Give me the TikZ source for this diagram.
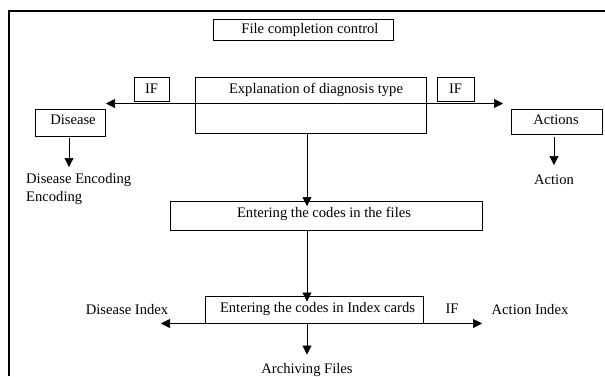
\documentclass[tikz,border=0pt]{standalone}
\usepackage{fontspec}
\setmainfont{Liberation Serif}
\usetikzlibrary{arrows.meta}
\tikzset{
  box/.style={draw, line width=0.8pt, inner sep=0pt, outer sep=0pt, anchor=center},
  lbl/.style={inner sep=0pt, font=\fontsize{14.6}{17}\selectfont},
  tip/.tip={Triangle[length=9pt,width=9pt]},
  conn/.style={line width=0.6pt, -tip},
}
\begin{document}
\begin{tikzpicture}[x=1pt,y=-1pt]
\useasboundingbox (0,0) rectangle (605,376);
% outer frame (only top and left visible)
\draw[line width=1.6pt] (9,376) -- (9,11) -- (605,11);

% boxes
\node[box, minimum width=180pt, minimum height=21pt] (fcc) at (303,29.5) {};
\node[lbl] (fcct) at (310,29.5) {File completion control};

\node[box, minimum width=35pt, minimum height=24pt] (ifL) at (151.5,89) {};
\node[lbl] (ifLt) at (151.5,89) {IF};

\node[box, minimum width=231pt, minimum height=56pt] (expl) at (310.5,105) {};
\node[lbl] (explt) at (316,90) {Explanation of diagnosis type};

\node[box, minimum width=37pt, minimum height=24pt] (ifR) at (455.5,89) {};
\node[lbl] (ifRt) at (455.5,89) {IF};

\node[box, minimum width=70pt, minimum height=27pt] (dis) at (70,122.5) {};
\node[lbl] (dist) at (73,120) {Disease};

\node[box, minimum width=91pt, minimum height=25pt] (act) at (556.5,121.5) {};
\node[lbl] (actt) at (556,120) {Actions};

\node[box, minimum width=312pt, minimum height=29pt] (files) at (326,215.5) {};
\node[lbl] (filest) at (324,214) {Entering the codes in the files};

\node[box, minimum width=218pt, minimum height=27pt] (idx) at (314,310) {};
\node[lbl] (idxt) at (317.5,309) {Entering the codes in Index cards};

% free labels
\node[lbl, anchor=west] (denc1) at (26,180) {Disease Encoding};
\node[lbl, anchor=west] (denc2) at (26,198) {Encoding};
\node[lbl] (action) at (554,180) {Action};
\node[lbl] (disidx) at (127,309) {Disease Index};
\node[lbl] (if3) at (452,309) {IF};
\node[lbl] (actidx) at (530,309) {Action Index};
\node[lbl] (arch) at (307,370) {Archiving Files};

% coordinates for arrows
\coordinate (hl) at (106,103.5);
\coordinate (hr) at (503,103.5);
\coordinate (il) at (161,0);
\coordinate (ir) at (482,0);

% connectors
\draw[line width=0.6pt, tip-tip] (hl) -- (hr);
\draw[conn] ([xshift=-1pt,yshift=-2pt]dis.south) -- ++(0,29);
\draw[conn] ([xshift=-2.5pt,yshift=-3pt]act.south) -- ++(0,28);
\draw[conn] ([xshift=-3.5pt]expl.south) -- ([xshift=-19pt,yshift=-5pt]files.north);
\draw[conn] ([xshift=-19pt]files.south) -- ([xshift=-7pt,yshift=-5pt]idx.north);
\draw[conn] (idx.south west) -- (idx.south west -| il);
\draw[conn] (idx.south east) -- (idx.south east -| ir);
\draw[conn] ([xshift=-7pt]idx.south) -- ++(0,31);
\end{tikzpicture}
\end{document}
